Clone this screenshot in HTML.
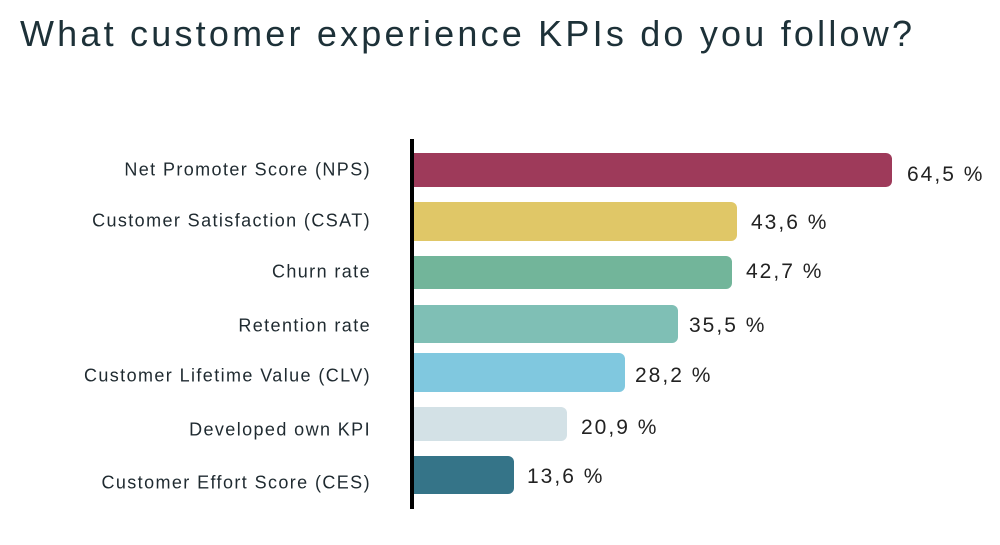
<!DOCTYPE html>
<html><head><style>
body{margin:0;width:1000px;height:545px;background:#fff;position:relative;overflow:hidden;font-family:"Liberation Sans",sans-serif;color:#1f2a30}
.t{position:absolute;left:20px;top:13px;font-size:36px;color:#1d3138;letter-spacing:3.2px}
.ax{position:absolute;left:410px;top:139px;width:4px;height:370px;background:#000}
.b{position:absolute;left:414px;border-radius:0 6px 6px 0}
.l{position:absolute;right:629px;font-size:18px;letter-spacing:1.4px;white-space:nowrap;transform:translateY(-50%)}
.v{position:absolute;font-size:21px;letter-spacing:2px;white-space:nowrap;transform:translateY(-50%);color:#222}
</style></head><body>
<div class="t">What customer experience KPIs do you follow?</div>
<div class="ax"></div>
<div class="b" style="top:153px;height:34px;width:478px;background:#9e3a5a"></div>
<div class="b" style="top:202px;height:39px;width:323px;background:#e0c767"></div>
<div class="b" style="top:256px;height:33px;width:318px;background:#72b59a"></div>
<div class="b" style="top:305px;height:38px;width:264px;background:#7fbfb5"></div>
<div class="b" style="top:353px;height:39px;width:211px;background:#80c8df"></div>
<div class="b" style="top:407px;height:34px;width:153px;background:#d3e1e6"></div>
<div class="b" style="top:456px;height:38px;width:100px;background:#357488"></div>
<div class="l" style="top:170px">Net Promoter Score (NPS)</div>
<div class="l" style="top:221px">Customer Satisfaction (CSAT)</div>
<div class="l" style="top:272px">Churn rate</div>
<div class="l" style="top:326px">Retention rate</div>
<div class="l" style="top:376px">Customer Lifetime Value (CLV)</div>
<div class="l" style="top:430px">Developed own KPI</div>
<div class="l" style="top:483px">Customer Effort Score (CES)</div>
<div class="v" style="left:907px;top:175px">64,5 %</div>
<div class="v" style="left:751px;top:223px">43,6 %</div>
<div class="v" style="left:746px;top:272px">42,7 %</div>
<div class="v" style="left:689px;top:326px">35,5 %</div>
<div class="v" style="left:635px;top:376px">28,2 %</div>
<div class="v" style="left:581px;top:428px">20,9 %</div>
<div class="v" style="left:527px;top:477px">13,6 %</div>
</body></html>
